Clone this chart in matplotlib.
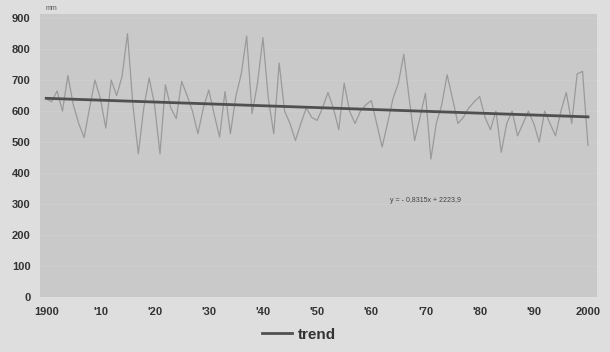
import numpy as np
import matplotlib.pyplot as plt

plt.rcParams['font.family'] = ['Liberation Sans', 'DejaVu Sans']

# yearly precipitation (mm)
years = np.arange(1900, 2001)
precip = np.array([
    640, 630, 665, 600, 715, 620, 560, 515, 610, 700,   # 1900-1909
    640, 545, 700, 650, 712, 850, 620, 462, 610, 707,   # 1910-1919
    620, 462, 685, 610, 576, 696, 650, 600, 527, 610,   # 1920-1929
    668, 590, 516, 663, 527, 647, 720, 842, 592, 690,   # 1930-1939
    837, 640, 527, 755, 600, 560, 505, 560, 610, 580,   # 1940-1949
    570, 610, 660, 610, 540, 690, 600, 560, 600, 620,   # 1950-1959
    634, 560, 484, 560, 640, 690, 783, 640, 505, 580,   # 1960-1969
    658, 445, 560, 620, 717, 640, 560, 580, 610, 630,   # 1970-1979
    647, 580, 540, 600, 467, 560, 600, 520, 560, 600,   # 1980-1989
    560, 500, 600, 560, 520, 600, 660, 560, 720, 728,   # 1990-1999
    490])                                               # 2000

tick_years = np.arange(1900, 2001, 10)
tick_labels = ['1900', "'10", "'20", "'30", "'40", "'50", "'60", "'70", "'80", "'90", '2000']
y_ticks = np.arange(0, 901, 100)
equation = 'y = - 0,8315x + 2223,9'

# 선형 추세선
coef = np.polyfit(years, precip, 1)
trend = np.polyval(coef, years)

fig = plt.figure(figsize=(6.1, 3.52), dpi=100)
fig.patch.set_facecolor('#dedede')
ax = fig.add_axes([0.066, 0.156, 0.913, 0.804])
ax.set_facecolor('#c9c9c9')

ax.plot(years, precip, color='#9a9a9a', lw=0.9)
ax.plot(years, trend, color='#505050', lw=2.0, label='trend')

ax.set_xlim(1898.9, 2001.7)
ax.set_ylim(0, 913)
ax.set_xticks(tick_years)
ax.set_xticklabels(tick_labels)
ax.set_yticks(y_ticks)
ax.yaxis.grid(True, color='#d0d0d0', lw=0.5)
ax.set_axisbelow(True)
ax.tick_params(length=0, labelsize=8, colors='#333333', pad=7)
for lab in ax.get_xticklabels() + ax.get_yticklabels():
    lab.set_fontweight('bold')
for s in ax.spines.values():
    s.set_visible(False)

ax.text(1963.5, 310, equation, fontsize=5, color='#444444', va='center')
fig.text(0.075, 0.975, 'mm', fontsize=5, color='#555555', va='center')

fig.legend(loc='lower center', bbox_to_anchor=(0.49, -0.01), frameon=False,
           prop={'weight': 'bold', 'size': 11}, handlelength=2.0, handletextpad=0.4,
           labelcolor='#333333')

fig.savefig('out.png', dpi=100, facecolor=fig.get_facecolor())
